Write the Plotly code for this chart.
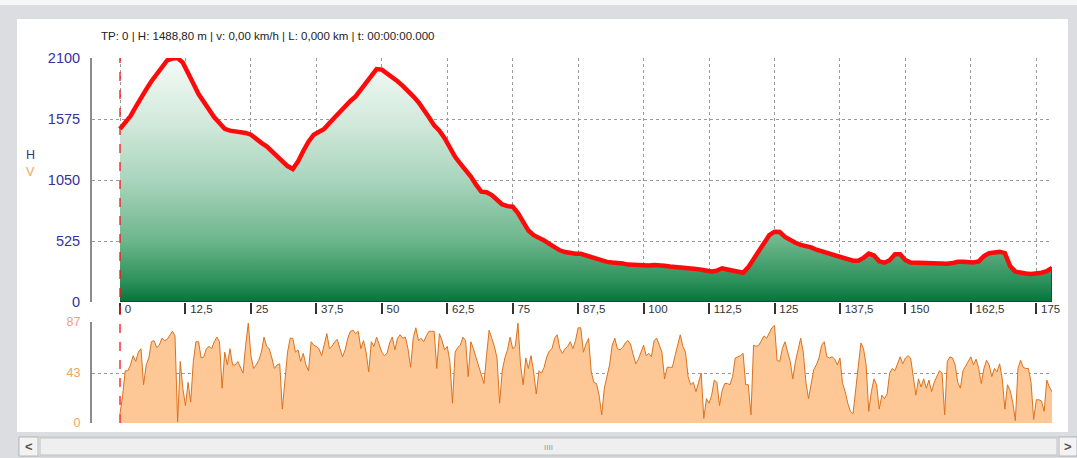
import plotly.graph_objects as go

W, H = 1077, 458

# ---- data -------------------------------------------------------------
elev_km = [0, 1, 2, 3, 4, 5, 6, 7, 8, 9, 10, 11, 12, 13, 14, 15, 16, 17, 18, 19,
           20, 21, 22, 23, 24, 25, 26, 27, 28, 29, 30, 31, 32, 33, 34, 35, 36, 37, 38, 39,
           40, 41, 42, 43, 44, 45, 46, 47, 48, 49, 50, 51, 52, 53, 54, 55, 56, 57, 58, 59,
           60, 61, 62, 63, 64, 65, 66, 67, 68, 69, 70, 71, 72, 73, 74, 75, 76, 77, 78, 79,
           80, 81, 82, 83, 84, 85, 86, 87, 88, 89, 90, 91, 92, 93, 94, 95, 96, 97, 98, 99,
           100, 101, 102, 103, 104, 105, 106, 107, 108, 109, 110, 111, 112, 113, 114, 115, 116, 117, 118, 119,
           120, 121, 122, 123, 124, 125, 126, 127, 128, 129, 130, 131, 132, 133, 134, 135, 136, 137, 138, 139,
           140, 141, 142, 143, 144, 145, 146, 147, 148, 149, 150, 151, 152, 153, 154, 155, 156, 157, 158, 159,
           160, 161, 162, 163, 164, 165, 166, 167, 168, 169, 170, 171, 172, 173, 174, 175, 176, 177, 178]
elev_m = [1490, 1540, 1600, 1680, 1760, 1830, 1900, 1960, 2030, 2080, 2095, 2100, 2060, 1960, 1880, 1790, 1720, 1660, 1590, 1540,
          1490, 1475, 1470, 1465, 1455, 1440, 1400, 1370, 1340, 1300, 1260, 1220, 1170, 1145, 1210, 1300, 1380, 1440, 1470, 1490,
          1540, 1590, 1630, 1680, 1730, 1770, 1830, 1900, 1960, 2005, 2000, 1970, 1940, 1900, 1860, 1820, 1770, 1720, 1660, 1590,
          1520, 1475, 1410, 1330, 1250, 1190, 1140, 1080, 1010, 950, 945, 920, 880, 840, 825, 820, 765, 690, 615, 575,
          555, 530, 500, 470, 445, 430, 420, 415, 415, 400, 385, 370, 350, 345, 340, 338, 332, 322, 318, 314,
          312, 315, 318, 318, 312, 305, 302, 303, 300, 295, 285, 278, 270, 262, 270, 290, 280, 268, 260, 252,
          300, 370, 450, 520, 575, 605, 602, 560, 530, 510, 492, 482, 470, 450, 436, 425, 412, 398, 382, 362,
          355, 355, 380, 416, 400, 350, 338, 360, 410, 410, 360, 340, 338, 338, 338, 338, 335, 332, 329, 335,
          346, 346, 346, 340, 350, 395, 420, 428, 433, 420, 310, 262, 251, 245, 242, 245, 252, 265, 294]

speed_step_km = 0.5
speed_kmh = [8, 24, 45, 45, 50, 58, 53, 61, 64, 33, 50, 56, 70, 71, 65, 67, 73, 71, 72, 76,
             79, 75, 1, 53, 30, 15, 35, 18, 53, 70, 70, 56, 57, 64, 66, 64, 70, 74, 70, 30,
             61, 50, 64, 50, 50, 53, 48, 43, 67, 86, 58, 47, 50, 54, 61, 74, 66, 64, 56, 47,
             50, 51, 12, 38, 61, 73, 73, 61, 63, 53, 60, 50, 45, 70, 67, 66, 64, 58, 67, 77,
             64, 66, 70, 72, 64, 57, 63, 73, 79, 80, 77, 79, 64, 71, 61, 44, 70, 66, 74, 67,
             61, 58, 60, 69, 74, 63, 73, 76, 73, 74, 64, 48, 73, 82, 71, 73, 70, 75, 79, 79,
             79, 47, 77, 71, 63, 66, 53, 17, 61, 65, 67, 74, 71, 40, 70, 64, 57, 50, 43, 34,
             58, 80, 73, 66, 56, 17, 45, 56, 63, 74, 64, 66, 86, 50, 33, 56, 47, 58, 44, 25,
             45, 43, 48, 57, 62, 64, 73, 76, 64, 60, 64, 66, 70, 64, 71, 82, 82, 61, 68, 73,
             44, 35, 34, 24, 7, 30, 40, 50, 67, 73, 64, 63, 65, 69, 71, 68, 59, 51, 55, 61,
             67, 58, 60, 57, 71, 73, 67, 61, 38, 48, 48, 48, 58, 68, 76, 66, 61, 40, 33, 35,
             27, 35, 43, 4, 21, 17, 24, 37, 35, 15, 28, 34, 34, 33, 40, 56, 57, 58, 60, 33,
             33, 7, 67, 66, 67, 71, 75, 73, 77, 82, 84, 54, 53, 64, 70, 61, 53, 38, 53, 63,
             73, 61, 35, 21, 33, 46, 50, 56, 67, 70, 57, 56, 57, 55, 50, 56, 34, 27, 17, 10,
             8, 28, 44, 69, 64, 50, 10, 27, 38, 33, 12, 24, 21, 25, 43, 47, 45, 51, 57, 51,
             56, 58, 56, 40, 24, 38, 31, 38, 30, 37, 27, 35, 40, 45, 43, 7, 53, 57, 56, 50,
             35, 30, 45, 49, 53, 57, 50, 55, 47, 34, 47, 54, 50, 40, 47, 44, 51, 38, 12, 33,
             28, 18, 2, 47, 54, 48, 47, 47, 35, 3, 20, 20, 19, 10, 37, 31, 27]
speed_km = [i * speed_step_km for i in range(len(speed_kmh))]

x_tickvals = [0, 12.5, 25, 37.5, 50, 62.5, 75, 87.5, 100, 112.5, 125, 137.5, 150, 162.5, 175]
x_ticktext = ["0", "12,5", "25", "37,5", "50", "62,5", "75", "87,5", "100", "112,5",
              "125", "137,5", "150", "162,5", "175"]
h_tickvals = [0, 525, 1050, 1575, 2100]
v_tickvals = [0, 43, 87]
cursor_km = 0
header = "TP: 0 | H: 1488,80 m | v: 0,00 km/h | L: 0,000 km | t: 00:00:00.000"

# ---- styling helpers -------------------------------------------------
FONT = "Liberation Sans, Arial, sans-serif"
NAVY = "#33339c"
ORANGE = "#f2a35e"


def px(x):
    return x / W


def py(y):
    return 1 - y / H


fig = go.Figure()

# speed panel
fig.add_trace(go.Scatter(
    x=speed_km, y=speed_kmh, xaxis="x2", yaxis="y2", mode="lines",
    line=dict(color="#db721e", width=1), fill="tozeroy", fillcolor="#fdc896",
    hoverinfo="skip", showlegend=False))

# elevation fill with gradient
fig.add_trace(go.Scatter(
    x=elev_km, y=elev_m, mode="lines", line=dict(color="#1c2a8a", width=1),
    fill="tozeroy",
    fillgradient=dict(type="vertical", start=0, stop=2100,
                      colorscale=[[0, "#04733a"], [0.08, "#2a8f58"], [0.25, "#6cb68c"],
                                  [0.5, "#a9d5bd"], [0.75, "#d4eadd"], [1, "#f4faf6"]]),
    hoverinfo="skip", showlegend=False))

# outline of filled area (baseline and right edge)
fig.add_trace(go.Scatter(
    x=[elev_km[0], elev_km[-1], elev_km[-1]], y=[0, 0, elev_m[-1]], mode="lines",
    line=dict(color="#1c2a8a", width=1.5), hoverinfo="skip", showlegend=False))

# thick red profile
fig.add_trace(go.Scatter(
    x=elev_km, y=elev_m, mode="lines", line=dict(color="#ff0a0a", width=4.5),
    hoverinfo="skip", showlegend=False))

grid = dict(showgrid=True, gridcolor="#9a9a9a", griddash="dot", gridwidth=1, zeroline=False)

fig.update_layout(
    width=W, height=H, autosize=False,
    margin=dict(l=0, r=0, t=0, b=0, pad=0, autoexpand=False),
    paper_bgcolor="#dcdde1", plot_bgcolor="white",
    font=dict(family=FONT, color="#222"),
    xaxis=dict(domain=[px(92), px(1052)], range=[-5.35, 178], anchor="y",
               tickvals=x_tickvals, ticktext=x_ticktext, ticks="outside", ticklen=11,
               tickwidth=1.5, tickcolor="#333", ticklabelposition="outside right",
               ticklabelstandoff=-4, ticklabelshift=4, automargin=False,
               tickfont=dict(size=11.5, color="#333", family=FONT),
               showline=False, **grid),
    yaxis=dict(domain=[py(302), py(58)], range=[0, 2100], tickvals=h_tickvals,
               ticks="outside", ticklen=7, tickcolor="rgba(0,0,0,0)", automargin=False,
               tickfont=dict(size=14.5, color=NAVY, family=FONT),
               showline=True, linecolor="#8c8c8c", linewidth=2, **grid),
    xaxis2=dict(domain=[px(92), px(1052)], range=[-5.35, 178], anchor="y2", automargin=False,
                showticklabels=False, ticks="", showgrid=False, zeroline=False, showline=False),
    yaxis2=dict(domain=[py(423), py(322)], range=[0, 87], tickvals=v_tickvals,
                ticks="outside", ticklen=7, tickcolor="rgba(0,0,0,0)", automargin=False,
                tickfont=dict(size=12.5, color=ORANGE, family=FONT),
                showline=True, linecolor="#8c8c8c", linewidth=2, **grid),
)

shapes = [
    # top light strip
    dict(type="rect", xref="paper", yref="paper", x0=0, x1=1, y0=py(5), y1=1,
         fillcolor="#f6f6f6", line=dict(width=0), layer="below"),
    # white panel
    dict(type="rect", xref="paper", yref="paper", x0=px(17), x1=px(1068), y0=py(432), y1=py(19),
         fillcolor="white", line=dict(width=0), layer="below"),
    # scrollbar track
    dict(type="rect", xref="paper", yref="paper", x0=px(19), x1=px(1077), y0=py(456), y1=py(437),
         fillcolor="#e9e9ea", line=dict(color="#c4c4c6", width=1), layer="below"),
    # thumb
    dict(type="rect", xref="paper", yref="paper", x0=px(40), x1=px(1057), y0=py(455), y1=py(438),
         fillcolor="#efeff0", line=dict(color="#c2c2c4", width=1), layer="below"),
    # left button
    dict(type="rect", xref="paper", yref="paper", x0=px(19), x1=px(38), y0=py(456), y1=py(437),
         fillcolor="#f3f3f4", line=dict(color="#b9b9bc", width=1), layer="below"),
    # right button
    dict(type="rect", xref="paper", yref="paper", x0=px(1059), x1=px(1077), y0=py(456), y1=py(437),
         fillcolor="#f3f3f4", line=dict(color="#b9b9bc", width=1), layer="below"),
    # cursor line
    dict(type="line", xref="x", yref="paper", x0=cursor_km, x1=cursor_km, y0=py(423), y1=py(58),
         line=dict(color="#ff1010", width=1.3, dash="dash"), layer="above"),
]

annotations = [
    dict(text=header, xref="paper", yref="paper", x=px(99), y=py(36), xanchor="left",
         yanchor="middle", showarrow=False, font=dict(size=11.5, color="#222", family=FONT)),
    dict(text="H", xref="paper", yref="paper", x=px(30), y=py(155), xanchor="center",
         yanchor="middle", showarrow=False, font=dict(size=12.5, color=NAVY, family=FONT)),
    dict(text="V", xref="paper", yref="paper", x=px(30), y=py(172), xanchor="center",
         yanchor="middle", showarrow=False, font=dict(size=12.5, color=ORANGE, family=FONT)),
    dict(text="<b>&lt;</b>", xref="paper", yref="paper", x=px(28.5), y=py(446.5), xanchor="center",
         yanchor="middle", showarrow=False, font=dict(size=13, color="#555", family=FONT)),
    dict(text="<b>&gt;</b>", xref="paper", yref="paper", x=px(1068), y=py(446.5), xanchor="center",
         yanchor="middle", showarrow=False, font=dict(size=13, color="#555", family=FONT)),
    dict(text="IIII", xref="paper", yref="paper", x=px(548), y=py(447), xanchor="center",
         yanchor="middle", showarrow=False, font=dict(size=8, color="#999", family=FONT)),
]

fig.update_layout(shapes=shapes, annotations=annotations)

fig.write_html("out.html", config={"responsive": False, "displayModeBar": False},
               post_script="document.body.style.margin='0px';document.body.style.overflow='hidden';")
